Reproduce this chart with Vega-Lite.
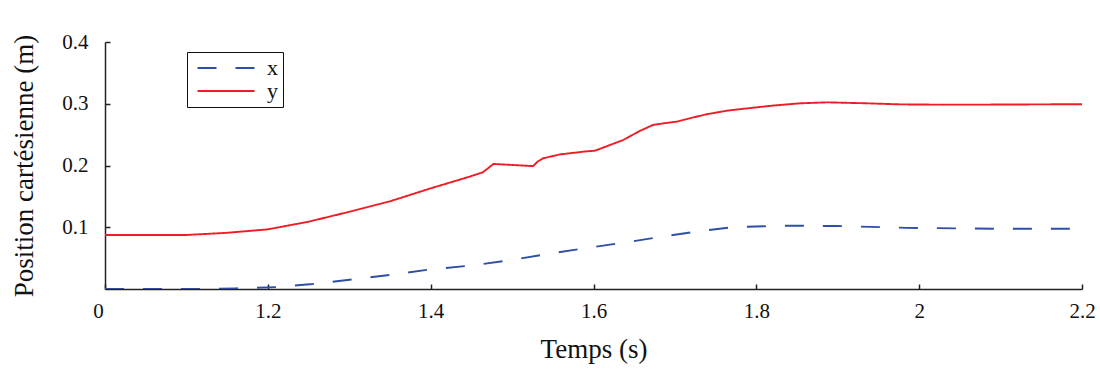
{
  "$schema": "https://vega.github.io/schema/vega-lite/v6.json",
  "autosize": "none",
  "width": 977,
  "height": 247,
  "padding": {"left": 105, "top": 42, "right": 18, "bottom": 80},
  "background": "white",
  "config": {
    "view": {"stroke": null},
    "font": "Liberation Serif",
    "axis": {
      "domainColor": "#222222",
      "domainWidth": 1.5,
      "tickColor": "#222222",
      "tickWidth": 1.5,
      "tickSize": -5,
      "grid": false,
      "labelFont": "Liberation Serif",
      "labelFontSize": 21,
      "labelColor": "#111111",
      "titleFont": "Liberation Serif",
      "titleFontSize": 27,
      "titleFontWeight": "normal",
      "titleColor": "#111111"
    }
  },
  "data": {
    "values": [
      {"t": 1.0, "v": 0.0, "s": "x"},
      {"t": 1.12, "v": 0.0, "s": "x"},
      {"t": 1.16, "v": 0.001, "s": "x"},
      {"t": 1.21, "v": 0.003, "s": "x"},
      {"t": 1.255, "v": 0.008, "s": "x"},
      {"t": 1.305, "v": 0.0157, "s": "x"},
      {"t": 1.35, "v": 0.0227, "s": "x"},
      {"t": 1.395, "v": 0.031, "s": "x"},
      {"t": 1.45, "v": 0.038, "s": "x"},
      {"t": 1.5, "v": 0.047, "s": "x"},
      {"t": 1.545, "v": 0.057, "s": "x"},
      {"t": 1.59, "v": 0.066, "s": "x"},
      {"t": 1.64, "v": 0.0756, "s": "x"},
      {"t": 1.69, "v": 0.086, "s": "x"},
      {"t": 1.735, "v": 0.0945, "s": "x"},
      {"t": 1.77, "v": 0.1, "s": "x"},
      {"t": 1.833, "v": 0.1025, "s": "x"},
      {"t": 1.9, "v": 0.102, "s": "x"},
      {"t": 1.985, "v": 0.099, "s": "x"},
      {"t": 2.1, "v": 0.0975, "s": "x"},
      {"t": 2.2, "v": 0.0975, "s": "x"},
      {"t": 1.0, "v": 0.0874, "s": "y"},
      {"t": 1.05, "v": 0.0874, "s": "y"},
      {"t": 1.1, "v": 0.0875, "s": "y"},
      {"t": 1.15, "v": 0.091, "s": "y"},
      {"t": 1.2, "v": 0.0966, "s": "y"},
      {"t": 1.25, "v": 0.109, "s": "y"},
      {"t": 1.3, "v": 0.125, "s": "y"},
      {"t": 1.35, "v": 0.142, "s": "y"},
      {"t": 1.4, "v": 0.163, "s": "y"},
      {"t": 1.448, "v": 0.182, "s": "y"},
      {"t": 1.464, "v": 0.189, "s": "y"},
      {"t": 1.47, "v": 0.195, "s": "y"},
      {"t": 1.477, "v": 0.2025, "s": "y"},
      {"t": 1.526, "v": 0.199, "s": "y"},
      {"t": 1.531, "v": 0.206, "s": "y"},
      {"t": 1.538, "v": 0.2116, "s": "y"},
      {"t": 1.559, "v": 0.218, "s": "y"},
      {"t": 1.592, "v": 0.223, "s": "y"},
      {"t": 1.602, "v": 0.224, "s": "y"},
      {"t": 1.617, "v": 0.2316, "s": "y"},
      {"t": 1.636, "v": 0.241, "s": "y"},
      {"t": 1.657, "v": 0.256, "s": "y"},
      {"t": 1.673, "v": 0.2656, "s": "y"},
      {"t": 1.69, "v": 0.269, "s": "y"},
      {"t": 1.702, "v": 0.271, "s": "y"},
      {"t": 1.72, "v": 0.277, "s": "y"},
      {"t": 1.739, "v": 0.283, "s": "y"},
      {"t": 1.765, "v": 0.289, "s": "y"},
      {"t": 1.792, "v": 0.293, "s": "y"},
      {"t": 1.82, "v": 0.297, "s": "y"},
      {"t": 1.854, "v": 0.3007, "s": "y"},
      {"t": 1.887, "v": 0.3023, "s": "y"},
      {"t": 1.936, "v": 0.3007, "s": "y"},
      {"t": 1.976, "v": 0.299, "s": "y"},
      {"t": 2.03, "v": 0.2985, "s": "y"},
      {"t": 2.1, "v": 0.2987, "s": "y"},
      {"t": 2.2, "v": 0.2993, "s": "y"}
    ]
  },
  "mark": {"type": "line", "strokeWidth": 1.9, "clip": true},
  "encoding": {
    "x": {
      "field": "t",
      "type": "quantitative",
      "scale": {"domain": [1.0, 2.2], "nice": false, "zero": false},
      "axis": {
        "title": "Temps (s)",
        "values": [1.0, 1.2, 1.4, 1.6, 1.8, 2.0, 2.2],
        "labelExpr": "datum.value == 1 ? '0' : format(datum.value, '.1~f')",
        "labelFlush": false,
        "labelPadding": 16,
        "labelOffset": {"condition": {"test": "datum.value == 1", "value": -7}, "value": 0},
        "titlePadding": 15
      }
    },
    "y": {
      "field": "v",
      "type": "quantitative",
      "scale": {"domain": [0, 0.4], "nice": false},
      "axis": {
        "title": "Position cartésienne (m)",
        "values": [0.1, 0.2, 0.3, 0.4],
        "format": ".1f",
        "labelPadding": 22,
        "titlePadding": 23
      }
    },
    "color": {
      "field": "s",
      "type": "nominal",
      "scale": {"domain": ["x", "y"], "range": ["#2f4fa6", "#ee1d25"]},
      "legend": {
        "title": null,
        "orient": "none",
        "legendX": 82,
        "legendY": 10,
        "strokeColor": "#111111",
        "fillColor": "white",
        "padding": 5,
        "symbolType": "M-5.7,0H5.7",
        "symbolSize": 100,
        "symbolOffset": 23,
        "symbolStrokeWidth": 1.9,
        "labelFont": "Liberation Serif",
        "labelFontSize": 22,
        "labelColor": "#111111",
        "labelOffset": 30,
        "rowPadding": 1
      }
    },
    "strokeDash": {
      "field": "s",
      "type": "nominal",
      "scale": {"domain": ["x", "y"], "range": [[19, 19], [1, 0]]},
      "legend": null
    }
  }
}
